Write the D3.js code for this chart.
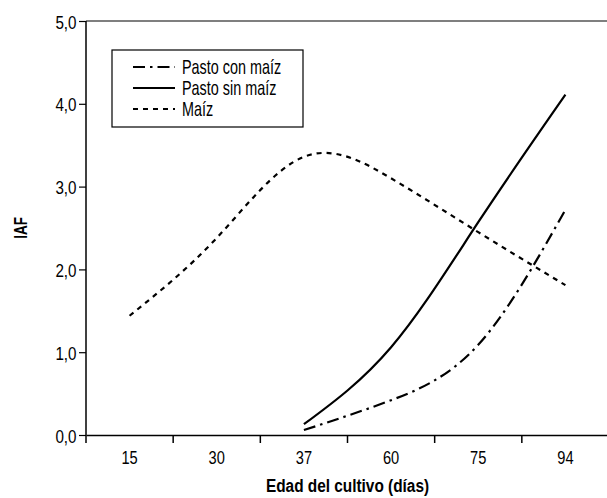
<!DOCTYPE html>
<html>
<head>
<meta charset="utf-8">
<script src="https://cdn.jsdelivr.net/npm/d3@7"></script>
<style>
  body { margin: 0; background: #fff; }
  svg { font-family: "Liberation Sans", Arial, sans-serif; }
</style>
</head>
<body>
<svg width="607" height="498"></svg>
<script>
// data
const dias = ["15", "30", "37", "60", "75", "94"];
const pastoConMaiz = [null, null, 0.06, 0.42, 1.09, 2.72];
const pastoSinMaiz = [null, null, 0.13, 1.06, 2.57, 4.11];
const maiz = [1.44, 2.38, 3.36, 3.10, 2.45, 1.81];
const yTicks = [0, 1, 2, 3, 4, 5];

const mLeft = 86, mRight = 609, mTop = 21, mBottom = 435;
const svg = d3.select("svg");

const x = d3.scaleBand().domain(dias).range([mLeft, mRight]);
const y = d3.scaleLinear().domain([0, 5]).range([mBottom, mTop]);

// narrow text: draw at (px,py) and squeeze horizontally
function narrow(sel, px, py, k, rot) {
  sel.attr("x", null).attr("y", null)
    .attr("transform", "translate(" + px + "," + py + ")" + (rot ? " rotate(" + rot + ")" : "") + " scale(" + k + ",1)");
  return sel;
}

// top border
svg.append("line")
  .attr("x1", mLeft).attr("x2", 607)
  .attr("y1", y(5)).attr("y2", y(5))
  .attr("stroke", "#555").attr("stroke-width", 1.5);

// x axis
const xAxis = svg.append("g")
  .attr("transform", "translate(0," + mBottom + ")")
  .call(d3.axisBottom(x).tickSize(0));
xAxis.select(".domain").attr("stroke", "#000").attr("stroke-width", 1.5);
xAxis.selectAll(".tick text")
  .attr("font-size", 19).attr("fill", "#000").attr("dy", null)
  .each(function () { narrow(d3.select(this), 0, 29, 0.77); });
// ticks between categories
xAxis.selectAll(".sep")
  .data(dias)
  .enter().append("line")
  .attr("x1", d => x(d) + x.bandwidth())
  .attr("x2", d => x(d) + x.bandwidth())
  .attr("y1", 0).attr("y2", 8)
  .attr("stroke", "#000").attr("stroke-width", 1.5);
xAxis.append("line")
  .attr("x1", mLeft).attr("x2", mLeft).attr("y1", 0).attr("y2", 8)
  .attr("stroke", "#000").attr("stroke-width", 1.5);

// y axis
const yAxis = svg.append("g")
  .attr("transform", "translate(" + mLeft + ",0)")
  .call(d3.axisLeft(y).tickValues(yTicks).tickSize(7)
    .tickFormat(d => d3.format(".1f")(d).replace(".", ",")));
yAxis.select(".domain").attr("stroke", "#000").attr("stroke-width", 1.5).attr("d", "M0," + mTop + "V" + mBottom);
yAxis.selectAll(".tick line").attr("stroke", "#000").attr("stroke-width", 1.2);
yAxis.selectAll(".tick text")
  .attr("font-size", 19).attr("fill", "#000").attr("dy", null)
  .each(function () { narrow(d3.select(this), -9.5, 7, 0.8); });

// axis titles
narrow(svg.append("text")
  .attr("text-anchor", "middle")
  .attr("font-size", 19).attr("font-weight", "bold")
  .text("Edad del cultivo (días)"), (mLeft + mRight) / 2, 492, 0.81);
narrow(svg.append("text")
  .attr("text-anchor", "middle")
  .attr("font-size", 18).attr("font-weight", "bold")
  .text("IAF"), 27, (mTop + mBottom) / 2, 0.75, -90);

// lines
const series = [
  { name: "Pasto con maíz", values: pastoConMaiz, dash: "12,5,2.5,5" },
  { name: "Pasto sin maíz", values: pastoSinMaiz, dash: null },
  { name: "Maíz", values: maiz, dash: "5,5" }
];

const line = d3.line()
  .x(d => x(d[0]) + x.bandwidth() / 2)
  .y(d => y(d[1]))
  .curve(d3.curveNatural);

series.forEach(s => {
  const pts = dias.map((d, i) => [d, s.values[i]]).filter(p => p[1] != null);
  svg.append("path")
    .datum(pts)
    .attr("d", line)
    .attr("fill", "none")
    .attr("stroke", "#000")
    .attr("stroke-width", 2.2)
    .attr("stroke-dasharray", s.dash);
});

// legend
const lg = svg.append("g");
lg.append("rect")
  .attr("x", 112).attr("y", 50).attr("width", 191).attr("height", 77)
  .attr("fill", "#fff").attr("stroke", "#000").attr("stroke-width", 1.2);
series.forEach((s, i) => {
  const ly = 67 + i * 21;
  lg.append("line")
    .attr("x1", 133).attr("x2", 175).attr("y1", ly).attr("y2", ly)
    .attr("stroke", "#000").attr("stroke-width", 2.2)
    .attr("stroke-dasharray", s.dash);
  narrow(lg.append("text")
    .attr("font-size", 20)
    .text(s.name), 182, ly + 7, 0.72);
});
</script>
</body>
</html>
